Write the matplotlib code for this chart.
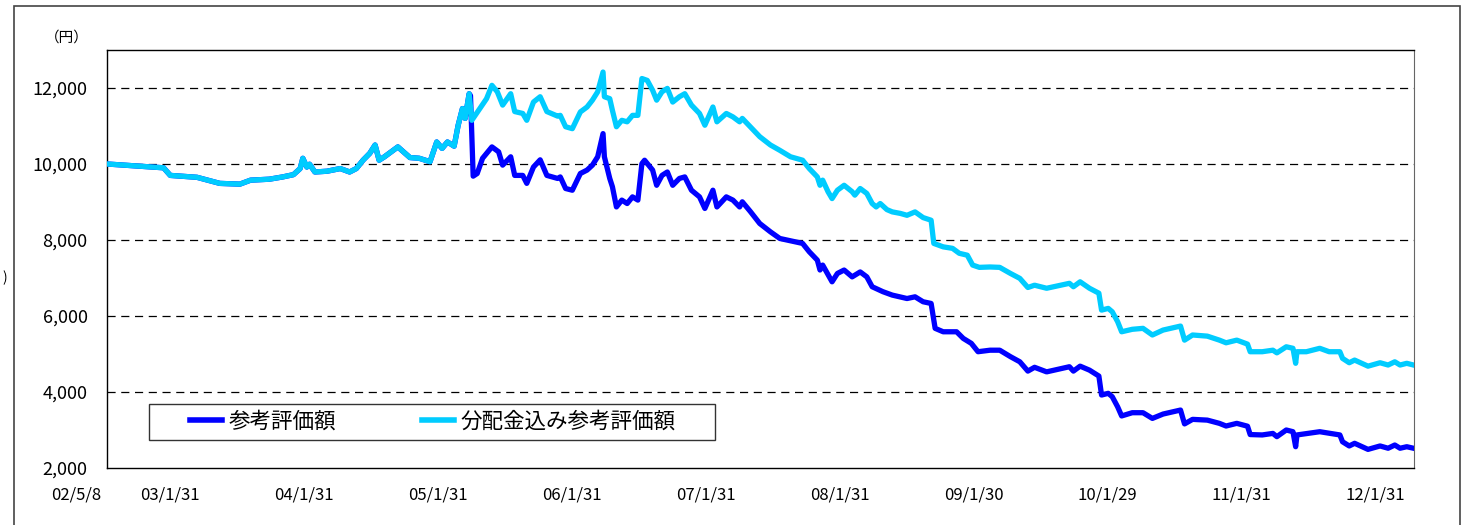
import matplotlib
matplotlib.use("Agg")
import matplotlib.pyplot as plt
import matplotlib.ticker as mticker
from matplotlib.patches import Rectangle
from matplotlib.lines import Line2D
from matplotlib.transforms import ScaledTranslation
import pandas as pd

plt.rcParams['font.family'] = ['Noto Sans CJK JP', 'DejaVu Sans']

# decimal years, values in yen
# both series are identical until the first distribution in early 2005
early_t = [2002.35, 2002.77, 2002.82, 2003.02, 2003.19, 2003.34, 2003.42, 2003.56,
           2003.66, 2003.74, 2003.79, 2003.81, 2003.84, 2003.86, 2003.90, 2003.99,
           2004.09, 2004.16, 2004.21, 2004.26, 2004.31, 2004.35, 2004.38, 2004.42,
           2004.52, 2004.61, 2004.68, 2004.76, 2004.81, 2004.85, 2004.89, 2004.94,
           2004.97, 2005.00, 2005.02, 2005.05]
early_v = [10000, 9900, 9700, 9650, 9490, 9470, 9575, 9600,
           9660, 9720, 9880, 10150, 9920, 9995, 9790, 9810,
           9880, 9790, 9880, 10100, 10280, 10500, 10100, 10190,
           10450, 10170, 10150, 10060, 10580, 10410, 10580, 10470,
           11020, 11460, 11200, 11850]

# 参考評価額
blue_t = [2005.06, 2005.08, 2005.11, 2005.15, 2005.22, 2005.27, 2005.30, 2005.36,
          2005.39, 2005.45, 2005.48, 2005.53, 2005.58, 2005.63, 2005.71, 2005.73,
          2005.77, 2005.82, 2005.88, 2005.93, 2005.97, 2006.01, 2006.05, 2006.06,
          2006.10, 2006.12, 2006.15, 2006.19, 2006.23, 2006.27, 2006.31, 2006.34,
          2006.36, 2006.42, 2006.45, 2006.49, 2006.53, 2006.57, 2006.62, 2006.66,
          2006.71, 2006.77, 2006.81, 2006.87, 2006.90, 2006.97, 2007.02, 2007.07,
          2007.09, 2007.15, 2007.22, 2007.30, 2007.37, 2007.45, 2007.54, 2007.59,
          2007.65, 2007.67, 2007.69, 2007.76, 2007.80, 2007.85, 2007.91, 2007.97,
          2008.02, 2008.06, 2008.14, 2008.21, 2008.32, 2008.38, 2008.44, 2008.50,
          2008.53, 2008.59, 2008.69, 2008.74, 2008.80, 2008.85, 2008.94, 2009.01,
          2009.09, 2009.16, 2009.22, 2009.27, 2009.36, 2009.53, 2009.56, 2009.61,
          2009.68, 2009.75, 2009.77, 2009.82, 2009.85, 2009.89, 2009.92, 2010.00,
          2010.08, 2010.15, 2010.23, 2010.36, 2010.39, 2010.45, 2010.56, 2010.65,
          2010.70, 2010.78, 2010.86, 2010.88, 2010.97, 2011.05, 2011.08, 2011.15,
          2011.20, 2011.22, 2011.23, 2011.40, 2011.55, 2011.57, 2011.62, 2011.66,
          2011.76, 2011.85, 2011.91, 2011.96, 2012.00, 2012.05, 2012.10]
blue_v = [11800, 9680, 9750, 10150, 10450, 10320, 9970, 10190,
          9700, 9700, 9490, 9920, 10110, 9700, 9620, 9660,
          9355, 9310, 9750, 9840, 9970, 10190, 10800, 10190,
          9620, 9400, 8870, 9050, 8960, 9135, 9050, 10010,
          10100, 9840, 9440, 9700, 9790, 9440, 9620, 9660,
          9310, 9135, 8830, 9310, 8870, 9135, 9050, 8870,
          9005, 8750, 8435, 8215, 8040, 7980, 7910, 7690,
          7470, 7210, 7340, 6900, 7120, 7210, 7030, 7160,
          7030, 6770, 6640, 6550, 6460, 6505, 6375, 6330,
          5675, 5585, 5585, 5410, 5280, 5060, 5100, 5100,
          4930, 4795, 4550, 4650, 4530, 4665, 4550, 4680,
          4575, 4420, 3920, 3965, 3875, 3610, 3370, 3455,
          3455, 3305, 3420, 3525, 3160, 3280, 3260, 3175,
          3105, 3175, 3100, 2880, 2870, 2910, 2825, 3000,
          2955, 2560, 2870, 2955, 2870, 2690, 2580, 2650,
          2490, 2580, 2520, 2605, 2520, 2560, 2520]

# 分配金込み参考評価額
cyan_t = [2005.07, 2005.12, 2005.18, 2005.22, 2005.26, 2005.30, 2005.36, 2005.39,
          2005.45, 2005.48, 2005.53, 2005.58, 2005.63, 2005.71, 2005.73, 2005.77,
          2005.82, 2005.88, 2005.93, 2005.97, 2006.01, 2006.05, 2006.06, 2006.10,
          2006.12, 2006.15, 2006.19, 2006.23, 2006.27, 2006.31, 2006.34, 2006.38,
          2006.42, 2006.45, 2006.49, 2006.53, 2006.57, 2006.62, 2006.66, 2006.71,
          2006.77, 2006.81, 2006.87, 2006.90, 2006.97, 2007.02, 2007.07, 2007.09,
          2007.15, 2007.22, 2007.30, 2007.37, 2007.45, 2007.54, 2007.59, 2007.65,
          2007.67, 2007.69, 2007.73, 2007.76, 2007.80, 2007.85, 2007.91, 2007.93,
          2007.97, 2008.02, 2008.06, 2008.09, 2008.12, 2008.17, 2008.21, 2008.27,
          2008.32, 2008.38, 2008.44, 2008.50, 2008.52, 2008.59, 2008.66, 2008.71,
          2008.77, 2008.81, 2008.86, 2008.94, 2009.01, 2009.09, 2009.16, 2009.22,
          2009.27, 2009.36, 2009.44, 2009.53, 2009.56, 2009.61, 2009.68, 2009.75,
          2009.77, 2009.82, 2009.85, 2009.89, 2009.92, 2010.00, 2010.08, 2010.15,
          2010.23, 2010.36, 2010.39, 2010.45, 2010.56, 2010.65, 2010.70, 2010.78,
          2010.86, 2010.88, 2010.97, 2011.05, 2011.08, 2011.15, 2011.20, 2011.22,
          2011.23, 2011.30, 2011.40, 2011.47, 2011.55, 2011.57, 2011.62, 2011.66,
          2011.76, 2011.85, 2011.91, 2011.96, 2012.00, 2012.05, 2012.10]
cyan_v = [11150, 11410, 11720, 12070, 11900, 11550, 11850, 11380,
          11330, 11150, 11630, 11770, 11380, 11260, 11280, 10980,
          10930, 11370, 11500, 11680, 11900, 12420, 11770, 11720,
          11410, 10980, 11150, 11110, 11280, 11280, 12250, 12200,
          11940, 11680, 11900, 11990, 11630, 11770, 11850, 11550,
          11330, 11020, 11500, 11110, 11330, 11240, 11110, 11200,
          10980, 10720, 10500, 10360, 10190, 10100, 9880, 9660,
          9440, 9575, 9270, 9090, 9310, 9440, 9270, 9180,
          9355, 9225, 8960, 8870, 8960, 8800, 8740, 8700,
          8650, 8740, 8590, 8520, 7910, 7820, 7780, 7650,
          7600, 7340, 7280, 7290, 7280, 7120, 6990, 6750,
          6810, 6730, 6790, 6860, 6770, 6900, 6730, 6600,
          6155, 6200, 6110, 5850, 5585, 5650, 5675, 5500,
          5630, 5735, 5365, 5500, 5470, 5365, 5295, 5365,
          5260, 5060, 5060, 5100, 5030, 5190, 5150, 4755,
          5060, 5060, 5150, 5060, 5060, 4885, 4770, 4840,
          4680, 4770, 4710, 4795, 4710, 4755, 4710]

tick_dates = ['2002-05-08', '2003-01-31', '2004-01-31', '2005-01-31', '2006-01-31',
              '2007-01-31', '2008-01-31', '2009-01-30', '2010-01-29', '2011-01-31',
              '2012-01-31']
tick_labels = ['02/5/8', '03/1/31', '04/1/31', '05/1/31', '06/1/31', '07/1/31',
               '08/1/31', '09/1/30', '10/1/29', '11/1/31', '12/1/31']


def to_date(y):
    yr = int(y)
    return pd.Timestamp(year=yr, month=1, day=1) + pd.Timedelta(days=(y - yr) * 365.25)


blue_x = [to_date(t) for t in early_t + blue_t]
blue_y = early_v + blue_v
cyan_x = [to_date(t) for t in early_t + cyan_t]
cyan_y = early_v + cyan_v

W, H = 1461, 525
fig = plt.figure(figsize=(W / 100, H / 100), dpi=100)
ax = fig.add_axes([107 / W, 1 - 468 / H, (1414 - 107) / W, (468 - 50) / H])

c_blue = '#0000FF'
c_cyan = '#00CCFF'
ax.plot(blue_x, blue_y, color=c_blue, lw=3.8, solid_joinstyle='round', zorder=3)
ax.plot(cyan_x, cyan_y, color=c_cyan, lw=3.8, solid_joinstyle='round', zorder=4)

ax.set_ylim(2000, 13000)
ax.set_xlim(pd.Timestamp('2002-05-08'), pd.Timestamp('2012-02-08'))
ax.set_yticks(range(2000, 12001, 2000))
ax.yaxis.set_major_formatter(mticker.FuncFormatter(lambda v, p: f'{int(v):,}'))
for v in range(4000, 12001, 2000):
    ax.axhline(v, color='black', lw=0.9, dashes=(6.5, 4.5), zorder=1)

ax.set_xticks([pd.Timestamp(d) for d in tick_dates])
ax.set_xticklabels(tick_labels)
ax.tick_params(axis='x', length=0, pad=13, labelsize=12)
ax.tick_params(axis='y', length=0, pad=14, labelsize=13)
shift = ScaledTranslation(-4 / 72, 0, fig.dpi_scale_trans)
for lab in ax.get_xticklabels():
    lab.set_horizontalalignment('right')
    lab.set_transform(lab.get_transform() + shift)

for s in ['left', 'top', 'bottom']:
    ax.spines[s].set_color('black')
    ax.spines[s].set_linewidth(1.0)
ax.spines['right'].set_color('#666666')

fig.text(67 / W, 1 - 38 / H, '（円）', fontsize=10.5, ha='center', va='center')
fig.text(5 / W, 1 - 278 / H, ')', fontsize=10, ha='center', va='center')

# outer frame of the chart area
fig.add_artist(Rectangle((14 / W, -0.05), (1460 - 14) / W, (H - 6) / H + 0.05,
                         transform=fig.transFigure, fill=False,
                         edgecolor='#444444', lw=1.2))

# legend box
fig.add_artist(Rectangle((149 / W, 1 - 440 / H), (715 - 149) / W, 36 / H,
                         transform=fig.transFigure, fill=False,
                         edgecolor='#333333', lw=1.0))
handles = [Line2D([], [], color=c_blue, lw=4),
           Line2D([], [], color=c_cyan, lw=4)]
ax.legend(handles, ['参考評価額', '分配金込み参考評価額'], loc='center left',
          bbox_to_anchor=(190 / W, 1 - 422 / H), bbox_transform=fig.transFigure,
          frameon=False, borderpad=0, borderaxespad=0, ncol=2,
          handlelength=1.5, handletextpad=0.28, columnspacing=4.0,
          prop={'size': 15.5})

fig.savefig('out.png', dpi=100)
